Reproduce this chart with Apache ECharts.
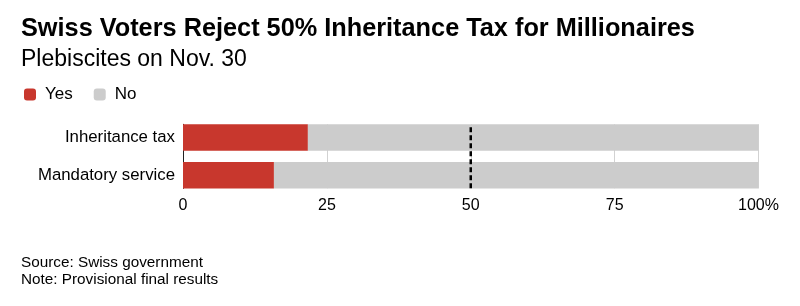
<!DOCTYPE html>
<html>
<head>
<meta charset="utf-8">
<script src="https://cdn.jsdelivr.net/npm/echarts@6/dist/echarts.min.js"></script>
<style>
  html, body { margin: 0; padding: 0; background: #fff; }
  #chartContainer { width: 800px; height: 306px; }
</style>
</head>
<body>
<div id="chartContainer"></div>
<script>
var categories = ['Inheritance tax', 'Mandatory service'];
var yesValues = [21.7, 15.8];
var noValues = [78.3, 84.2];
var xTicks = [0, 25, 50, 75, 100];
var threshold = 50;

var FONT = '"Liberation Sans", Arial, Helvetica, sans-serif';

function drawChart() {
  var chart = echarts.init(document.getElementById('chartContainer'));

  // grid 0 holds the bars, grid 1 only spans the bars' height so the
  // gridlines, zero line and 50% line stop at the bar edges
  var plotLeft = 183, plotRight = 41.5;

  chart.setOption({
    animation: false,
    textStyle: { fontFamily: FONT },
    title: [{
      text: 'Swiss Voters Reject 50% Inheritance Tax for Millionaires',
      left: 21,
      top: 16.5,
      padding: 0,
      textStyle: { fontSize: 25.3, fontWeight: 'bold', color: '#000', fontFamily: FONT }
    }, {
      text: 'Plebiscites on Nov. 30',
      left: 21,
      top: 48.5,
      padding: 0,
      textStyle: { fontSize: 23, fontWeight: 'normal', color: '#000', fontFamily: FONT }
    }, {
      text: 'Source: Swiss government\nNote: Provisional final results',
      left: 21,
      top: 254,
      padding: 0,
      textStyle: { fontSize: 15.3, fontWeight: 'normal', color: '#000', lineHeight: 17, fontFamily: FONT }
    }],
    legend: {
      left: 24,
      top: 86,
      padding: 0,
      icon: 'roundRect',
      itemWidth: 12,
      itemHeight: 12,
      itemGap: 21,
      textStyle: { fontSize: 17, color: '#000', padding: [0, 0, 0, 4] },
      data: ['Yes', 'No']
    },
    grid: [{
      left: plotLeft,
      right: plotRight,
      top: 118.6,
      bottom: 111.8,
      containLabel: false
    }, {
      left: plotLeft,
      right: plotRight,
      top: 124.3,
      bottom: 117.7,
      containLabel: false
    }],
    xAxis: [{
      type: 'value',
      gridIndex: 0,
      min: xTicks[0],
      max: xTicks[xTicks.length - 1],
      interval: 25,
      axisLine: { show: false },
      axisTick: { show: false },
      splitLine: { show: false },
      axisLabel: {
        fontSize: 16,
        color: '#000',
        margin: 3,
        formatter: function (v) { return v === 100 ? '100%' : String(v); }
      }
    }, {
      type: 'value',
      gridIndex: 1,
      min: xTicks[0],
      max: xTicks[xTicks.length - 1],
      interval: 25,
      axisLine: { show: false },
      axisTick: { show: false },
      axisLabel: { show: false },
      splitLine: { show: true, lineStyle: { color: '#d2d2d2', width: 1 } }
    }],
    yAxis: [{
      type: 'category',
      gridIndex: 0,
      inverse: true,
      data: categories,
      axisLine: { show: false },
      axisTick: { show: false },
      axisLabel: { fontSize: 16.8, color: '#000', margin: 8 }
    }, {
      type: 'value',
      gridIndex: 1,
      min: 0,
      max: 1,
      axisLine: { show: true, lineStyle: { color: '#222', width: 1 } },
      axisTick: { show: false },
      axisLabel: { show: false },
      splitLine: { show: false }
    }],
    series: [{
      name: 'Yes',
      type: 'bar',
      stack: 'total',
      barWidth: '70%',
      itemStyle: { color: '#c8372d' },
      data: yesValues
    }, {
      name: 'No',
      type: 'bar',
      stack: 'total',
      barWidth: '70%',
      itemStyle: { color: '#cccccc' },
      data: noValues
    }, {
      name: 'Threshold',
      type: 'line',
      xAxisIndex: 1,
      yAxisIndex: 1,
      z: 5,
      silent: true,
      symbol: 'none',
      lineStyle: { color: '#000', width: 2.5, type: [5, 3] },
      data: [[threshold, 0], [threshold, 1]]
    }]
  });
}

drawChart();
</script>
</body>
</html>
